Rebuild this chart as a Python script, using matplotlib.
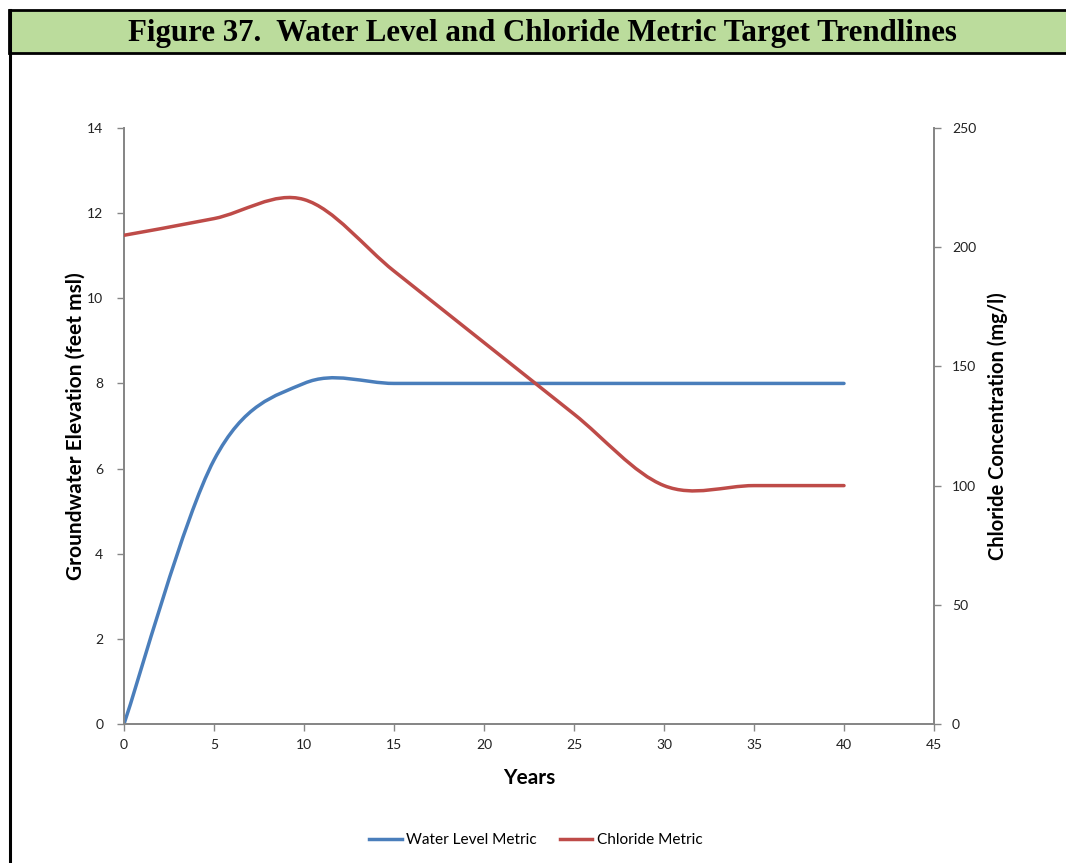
import matplotlib
matplotlib.use('Agg')
import matplotlib.pyplot as plt
import numpy as np
from matplotlib.path import Path
from matplotlib.patches import PathPatch, Rectangle
from matplotlib.lines import Line2D

plt.rcParams['font.family'] = ['Lato', 'DejaVu Sans']

# data
years = [0, 5, 10, 15, 20, 25, 30, 35, 40]
water_level = [0, 6.2, 8.0, 8.0, 8.0, 8.0, 8.0, 8.0, 8.0]
chloride = [205, 212, 220, 190, 160, 130, 100, 100, 100]

blue = '#4A7EBB'
red = '#BE4B48'
spine_col = '#868686'


def smooth_path(xs, ys):
    # Excel style smoothed line: cubic bezier through each point
    xs = np.asarray(xs, float)
    ys = np.asarray(ys, float)
    n = len(xs)
    verts = [(xs[0], ys[0])]
    codes = [Path.MOVETO]
    for i in range(n - 1):
        p0 = np.array([xs[max(i - 1, 0)], ys[max(i - 1, 0)]])
        p1 = np.array([xs[i], ys[i]])
        p2 = np.array([xs[i + 1], ys[i + 1]])
        p3 = np.array([xs[min(i + 2, n - 1)], ys[min(i + 2, n - 1)]])
        c1 = p1 + (p2 - p0) / 6
        c2 = p2 - (p3 - p1) / 6
        verts += [tuple(c1), tuple(c2), tuple(p2)]
        codes += [Path.CURVE4] * 3
    return Path(verts, codes)


fig = plt.figure(figsize=(10.66, 8.63), dpi=100)

# title bar and border
fig.patches.append(Rectangle((9 / 1066, 1 - 53 / 863), 1, 43 / 863, transform=fig.transFigure,
                             facecolor='#BBDC9C', edgecolor='black', linewidth=2))
fig.add_artist(Line2D([9.5 / 1066, 9.5 / 1066], [0, 1 - 10 / 863], color='black', linewidth=2.2))
fig.text(542 / 1066, 1 - 33 / 863, 'Figure 37.  Water Level and Chloride Metric Target Trendlines',
         ha='center', va='center', fontsize=22.2, fontweight='bold', family='Liberation Serif')

ax = fig.add_axes([124 / 1066, 1 - 724 / 863, 810 / 1066, 596 / 863])
ax2 = ax.twinx()

ax.add_patch(PathPatch(smooth_path(years, water_level), facecolor='none', edgecolor=blue,
                       linewidth=2.5, capstyle='round', zorder=3))
ax2.add_patch(PathPatch(smooth_path(years, chloride), facecolor='none', edgecolor=red,
                        linewidth=2.5, capstyle='round', zorder=3))

ax.set_xlim(0, 45)
ax.set_ylim(0, 14)
ax2.set_ylim(0, 250)
ax.set_xticks(range(0, 46, 5))
ax.set_yticks(range(0, 15, 2))
ax2.set_yticks(range(0, 251, 50))

for a in (ax, ax2):
    a.spines['top'].set_visible(False)
    for s in ('left', 'right', 'bottom'):
        a.spines[s].set_color(spine_col)
        a.spines[s].set_linewidth(1.3)
    a.tick_params(colors=spine_col, labelcolor='#222222', labelsize=10, length=5, width=1)
ax.tick_params(axis='x', pad=6)
ax.tick_params(axis='y', pad=10)
ax2.tick_params(axis='y', pad=8)

ax.set_xlabel('Years', fontsize=15, fontweight='bold', labelpad=12)
ax.set_ylabel('Groundwater Elevation (feet msl)', fontsize=15, fontweight='bold', labelpad=1)
ax2.set_ylabel('Chloride Concentration (mg/l)', fontsize=14.5, fontweight='bold', labelpad=8)

handles = [Line2D([], [], color=blue, linewidth=2.5), Line2D([], [], color=red, linewidth=2.5)]
fig.legend(handles, ['Water Level Metric', 'Chloride Metric'], loc='center',
           bbox_to_anchor=(536 / 1066, 1 - 840 / 863), ncol=2, frameon=False, fontsize=11.1,
           handlelength=2.1, handletextpad=0.3, columnspacing=1.5)

fig.savefig('out.png', dpi=100)
